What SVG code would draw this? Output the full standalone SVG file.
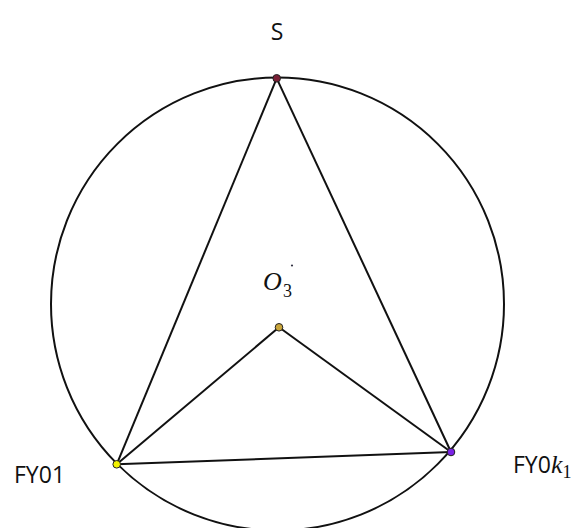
<svg xmlns="http://www.w3.org/2000/svg" width="580" height="528" viewBox="0 0 580 528">
<style>
.ln{stroke:#111;stroke-width:2;fill:none}
.pt{stroke:#222;stroke-width:1}
.lb{font-family:"Open Sans","Liberation Sans",sans-serif;font-size:23px;fill:#111}
.mi{font-family:"Liberation Serif","DejaVu Serif",serif;font-style:italic;fill:#111}
.mn{font-family:"Liberation Serif","DejaVu Serif",serif;fill:#111}
</style>
<rect width="580" height="528" fill="#fff"/>
<g id="connectors">
<circle class="ln" cx="277.5" cy="304" r="226.5"/>
<line class="ln" x1="276.7" y1="78.3" x2="116.7" y2="464.3"/>
<line class="ln" x1="276.7" y1="78.3" x2="451" y2="452"/>
<line class="ln" x1="116.7" y1="464.3" x2="451" y2="452"/>
<line class="ln" x1="279" y1="327.3" x2="116.7" y2="464.3"/>
<line class="ln" x1="279" y1="327.3" x2="451" y2="452"/>
</g>
<g id="S">
<circle class="pt" cx="276.7" cy="78.3" r="3.8" fill="#7a1f35"/>
<text class="lb" x="277" y="40" text-anchor="middle">S</text>
</g>
<g id="O3">
<circle class="pt" cx="279" cy="327.3" r="3.8" fill="#c9a53a"/>
<text class="mi" x="263" y="290" font-size="26">O</text>
<text class="mn" x="283" y="297" font-size="18">3</text>
<circle cx="292" cy="265.5" r="1.1" fill="#334"/>
</g>
<g id="FY01">
<circle class="pt" cx="116.7" cy="464.3" r="3.8" fill="#f2f200"/>
<text class="lb" x="14" y="483">FY01</text>
</g>
<g id="FY0k1">
<circle class="pt" cx="451" cy="452" r="3.8" fill="#7b22e6"/>
<text class="lb" x="513" y="473">FY0<tspan class="mi" font-size="26">k</tspan><tspan class="mn" font-size="18" dy="5">1</tspan></text>
</g>
</svg>
